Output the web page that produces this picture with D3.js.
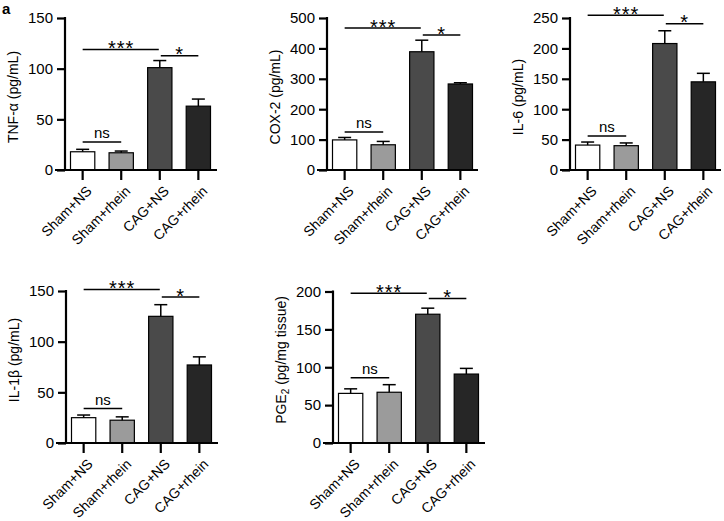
<!DOCTYPE html>
<html><head><meta charset="utf-8">
<script src="https://cdn.jsdelivr.net/npm/d3@7"></script>
<style>
body{margin:0;background:#fff;}
text{font-family:"Liberation Sans",Arial,sans-serif;fill:#000;}
</style></head>
<body><svg id="chart" width="724" height="521"></svg>
<script>
const categories = ["Sham+NS","Sham+rhein","CAG+NS","CAG+rhein"];

const tnfMean = [18, 17, 101, 63];
const tnfErr  = [2.4, 1.7, 7, 7];
const tnfTicks = [0, 50, 100, 150];
const tnfSig = [[0,2,118.8,"***"],[2,3,112.8,"*"],[0,1,27.6,"ns"]];

const cox2Mean = [99, 83, 389, 283];
const cox2Err  = [8, 11, 38, 4];
const cox2Ticks = [0, 100, 200, 300, 400, 500];
const cox2Sig = [[0,2,467,"***"],[2,3,444,"*"],[0,1,125,"ns"]];

const il6Mean = [41, 40, 208, 145];
const il6Err  = [5, 4.5, 21, 14];
const il6Ticks = [0, 50, 100, 150, 200, 250];
const il6Sig = [[0,2,254.4,"***"],[2,3,240.6,"*"],[0,1,56,"ns"]];

const il1bMean = [25, 22.5, 125, 77];
const il1bErr  = [2.6, 3.3, 11.5, 8];
const il1bTicks = [0, 50, 100, 150];
const il1bSig = [[0,2,151.4,"***"],[2,3,144,"*"],[0,1,34,"ns"]];

const pge2Mean = [65.5, 67, 170, 91];
const pge2Err  = [6, 10, 8, 7.5];
const pge2Ticks = [0, 50, 100, 150, 200];
const pge2Sig = [[0,2,197.7,"***"],[2,3,190.6,"*"],[0,1,86,"ns"]];

const fills = ["#ffffff", "#9b9b9b", "#4a4a4a", "#262626"];

const svg = d3.select("#chart");

// panel label
svg.append("text").attr("x", 2).attr("y", 14).attr("font-size", 15).attr("font-weight", "bold").text("a");

function panel(cfg) {
  const A = cfg.ax, y0 = cfg.y0, y1 = cfg.y1;
  const g = svg.append("g");
  const y = d3.scaleLinear().domain([0, cfg.max]).range([y0, y1]);
  const x = d3.scaleBand().domain(categories).range([A + 5.5, A + 145.5]).paddingInner(0.37).paddingOuter(0);
  const bw = x.bandwidth();
  const cx = c => x(c) + bw / 2;

  // bars
  g.selectAll("rect.bar").data(categories).enter().append("rect")
    .attr("x", d => x(d)).attr("width", bw)
    .attr("y", (d, i) => y(cfg.mean[i]))
    .attr("height", (d, i) => y(0) - y(cfg.mean[i]))
    .attr("fill", (d, i) => fills[i]).attr("stroke", "#000").attr("stroke-width", 1.2);

  // error bars
  categories.forEach((c, i) => {
    const top = y(cfg.mean[i] + cfg.err[i]);
    g.append("line").attr("x1", cx(c)).attr("x2", cx(c)).attr("y1", y(cfg.mean[i])).attr("y2", top)
      .attr("stroke", "#000").attr("stroke-width", 1.5);
    g.append("line").attr("x1", cx(c) - 6.5).attr("x2", cx(c) + 6.5).attr("y1", top).attr("y2", top)
      .attr("stroke", "#000").attr("stroke-width", 1.5);
  });

  // y axis
  const yAxis = d3.axisLeft(y).tickValues(cfg.ticks).tickSize(8).tickPadding(4).tickFormat(d3.format("d"));
  const ya = g.append("g").attr("transform", `translate(${A},0)`).call(yAxis);
  ya.select(".domain").attr("d", `M0,${y0 + 1}V${y1 - 1}`).attr("stroke-width", 2.2);
  ya.selectAll(".tick line").attr("stroke-width", 2.2);
  ya.selectAll("text").attr("font-size", 15).attr("font-family", "Liberation Sans, Arial, sans-serif").attr("fill", "#000");

  // x axis
  const xAxis = d3.axisBottom(x).tickSize(10).tickFormat("");
  const xa = g.append("g").attr("transform", `translate(0,${y0})`).call(xAxis);
  xa.select(".domain").attr("d", `M${A - 10},0H${A + cfg.xEnd}`).attr("stroke-width", 2.2);
  xa.selectAll(".tick line").attr("stroke-width", 2.2);

  // x labels
  g.selectAll("text.xl").data(categories).enter().append("text")
    .attr("class", "xl")
    .attr("transform", d => `translate(${cx(d) + 10},${y0 + 22}) rotate(-45)`)
    .attr("text-anchor", "end").attr("font-size", 14).text(d => d);

  // y title
  const t = g.append("text")
    .attr("transform", `translate(${A - 52},${cfg.tc}) rotate(-90)`)
    .attr("text-anchor", "middle").attr("dominant-baseline", "central").attr("font-size", 14);
  if (cfg.pge) {
    t.append("tspan").text("PGE");
    t.append("tspan").attr("font-size", 10).attr("dy", 4).text("2");
    t.append("tspan").attr("dy", -4).text(" (pg/mg tissue)");
  } else {
    t.text(cfg.title);
  }

  // significance
  cfg.sig.forEach(s => {
    const x1 = cx(categories[s[0]]), x2 = cx(categories[s[1]]), yy = y(s[2]);
    g.append("line").attr("x1", x1 + (s[3] === "*" ? 1 : 0)).attr("x2", x2 - (s[3] === "***" ? 1 : 0))
      .attr("y1", yy).attr("y2", yy).attr("stroke", "#000").attr("stroke-width", 1.5);
    const lab = g.append("text").attr("x", (x1 + x2) / 2).attr("text-anchor", "middle").text(s[3]);
    if (s[3] === "ns") lab.attr("y", yy - 4).attr("font-size", 15);
    else lab.attr("y", yy + 5.5).attr("font-size", 20).attr("letter-spacing", s[3] === "***" ? 1 : 0);
  });
}

panel({ax: 65, y0: 170, y1: 18, max: 150, mean: tnfMean, err: tnfErr, ticks: tnfTicks, sig: tnfSig, title: "TNF-α (pg/mL)", tc: 97, xEnd: 152});
panel({ax: 327, y0: 170, y1: 18, max: 500, mean: cox2Mean, err: cox2Err, ticks: cox2Ticks, sig: cox2Sig, title: "COX-2 (pg/mL)", tc: 97, xEnd: 151});
panel({ax: 570, y0: 170, y1: 18, max: 250, mean: il6Mean, err: il6Err, ticks: il6Ticks, sig: il6Sig, title: "IL-6 (pg/mL)", tc: 97, xEnd: 151});
panel({ax: 66, y0: 443, y1: 291, max: 150, mean: il1bMean, err: il1bErr, ticks: il1bTicks, sig: il1bSig, title: "IL-1β (pg/mL)", tc: 360, xEnd: 152});
panel({ax: 333, y0: 443, y1: 291.5, max: 200, mean: pge2Mean, err: pge2Err, ticks: pge2Ticks, sig: pge2Sig, pge: true, tc: 360, xEnd: 152});
</script></body></html>
